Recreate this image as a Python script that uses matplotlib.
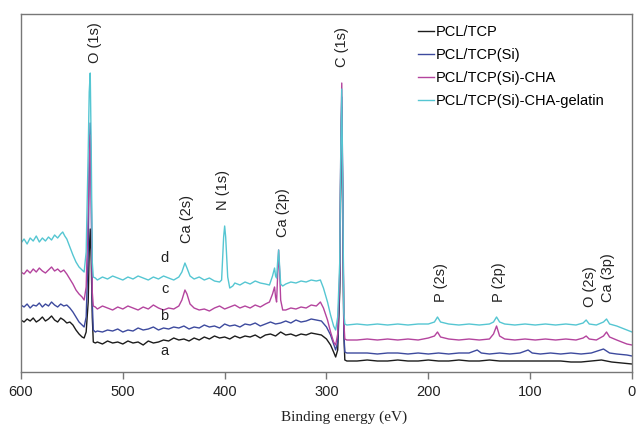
import matplotlib.pyplot as plt

# XPS survey spectra, intensity in arbitrary units (offset per sample)
e_a = [600, 597, 594, 591, 588, 585, 582, 579, 576, 573, 570, 567, 564, 561, 558, 555, 552, 549, 546, 543,
       540, 538, 536, 534, 533, 532, 531, 530, 529, 527,
       525, 520, 515, 510, 505, 500, 495, 490, 485, 480, 475, 470, 465, 460, 455, 450, 445, 440, 435, 430,
       425, 420, 415, 410, 405, 400, 395, 390, 385, 380, 375, 370, 365, 360, 355, 350, 345, 340, 335, 330,
       325, 320, 315, 310, 305, 300, 296, 293, 291, 289, 287, 286, 285, 284, 283, 282, 280,
       270, 260, 250, 240, 230, 220, 210, 200, 190, 180, 170, 160, 150, 140, 130, 120, 110, 100, 90, 80,
       70, 60, 50, 40, 30, 25, 20, 10, 0]
i_a = [52, 50, 53, 51, 54, 50, 52, 55, 51, 53, 56, 52, 50, 54, 52, 49, 50, 47, 42, 38,
       35, 34, 40, 70, 120, 143, 110, 55, 30, 29,
       30, 28, 31, 29, 30, 28, 31, 29, 30, 27, 31, 29, 30, 32, 31, 34, 32, 33, 31, 34,
       32, 35, 33, 36, 34, 35, 33, 36, 34, 36, 35, 37, 34, 37, 38, 36, 40, 37, 38, 36,
       38, 37, 39, 38, 37, 33, 27, 20, 15, 22, 80, 200, 265, 160, 40, 12, 11,
       11, 12, 11, 11, 12, 11, 11, 12, 11, 11, 12, 11, 11, 12, 11, 11, 11, 11, 11, 11,
       11, 10, 10, 11, 12, 11, 10, 9, 8]

e_b = [600, 597, 594, 591, 588, 585, 582, 579, 576, 573, 570, 567, 564, 561, 558, 555, 552, 549, 546, 543,
       540, 538, 536, 534, 533, 532, 531, 530, 529, 527,
       525, 520, 515, 510, 505, 500, 495, 490, 485, 480, 475, 470, 465, 460, 455, 450, 445, 440, 435, 430,
       425, 420, 415, 410, 405, 400, 395, 390, 385, 380, 375, 370, 365, 360, 355, 350, 345, 340, 335, 330,
       325, 320, 315, 310, 305, 300, 296, 293, 291, 289, 287, 286, 285, 284, 283, 282, 280,
       270, 260, 250, 240, 230, 220, 210, 200, 190, 180, 170, 160, 152, 148, 140, 130, 120, 110, 102, 98,
       90, 80, 70, 60, 50, 40, 28, 22, 15, 5, 0]
i_b = [67, 65, 68, 64, 67, 66, 69, 65, 68, 66, 70, 67, 65, 68, 66, 67, 64, 60, 55, 50,
       47, 45, 55, 120, 200, 249, 180, 70, 42, 40,
       41, 40, 42, 41, 43, 40, 42, 41, 44, 42, 43, 45, 42, 44, 43, 45, 44, 46, 43, 45,
       44, 47, 45, 46, 44, 48, 46, 47, 45, 48, 47, 49, 46, 48, 50, 48, 49, 51, 49, 52,
       50, 51, 53, 52, 51, 45, 37, 28, 22, 30, 90, 210, 275, 170, 40, 20, 19,
       19, 19, 18, 19, 19, 18, 19, 18, 19, 18, 19, 19, 22, 19, 18, 19, 18, 19, 22, 19,
       18, 19, 18, 19, 18, 19, 23, 19, 18, 17, 16]

e_c = [600, 597, 594, 591, 588, 585, 582, 579, 576, 573, 570, 567, 564, 561, 558, 555, 552, 549, 546, 543,
       540, 538, 536, 534, 533, 532, 531, 530, 529, 527,
       525, 520, 515, 510, 505, 500, 495, 490, 485, 480, 475, 470, 465, 460, 455, 450, 445, 442, 439, 437,
       434, 430, 425, 420, 415, 410, 405, 400, 395, 390, 385, 380, 375, 370, 365, 360, 356, 353, 351, 350,
       349, 348, 347, 346, 345, 343, 340, 335, 330, 325, 320, 315, 310, 306, 303, 299, 296, 293, 291, 289,
       287, 286, 285, 284, 283, 282, 280,
       270, 260, 250, 240, 230, 220, 210, 200, 194, 191, 188, 180, 170, 160, 150, 140, 136, 133, 130, 125,
       115, 105, 95, 85, 75, 65, 55, 48, 45, 42, 35, 28, 25, 22, 15, 10, 5, 0]
i_c = [100, 98, 102, 99, 103, 100, 104, 101, 99, 102, 105, 101, 103, 100, 102, 98, 93, 88, 82, 78,
       75, 72, 85, 160, 210, 237, 170, 80, 66, 65,
       63, 66, 64, 62, 65, 63, 66, 64, 62, 65, 63, 67, 64, 62, 64, 63, 66, 72, 82, 78,
       68, 64, 62, 63, 61, 64, 66, 63, 65, 67, 64, 66, 64, 67, 65, 68, 70, 78, 85, 75,
       70, 95, 122, 100, 72, 62, 62, 64, 63, 65, 64, 67, 66, 70, 64, 52, 40, 30, 27, 38,
       100, 220, 289, 180, 50, 33, 32,
       32, 33, 32, 33, 32, 33, 32, 34, 36, 40, 35, 33, 32, 33, 32, 33, 38, 46, 36, 33,
       32, 33, 32, 33, 32, 33, 32, 34, 36, 33, 32, 36, 40, 35, 32, 30, 28, 27]

e_d = [600, 597, 594, 591, 588, 585, 582, 579, 576, 573, 570, 567, 564, 561, 559, 557, 555, 552, 549, 546,
       543, 540, 538, 536, 534, 533, 532, 531, 530, 529, 527,
       525, 520, 515, 510, 505, 500, 495, 490, 485, 480, 475, 470, 465, 460, 455, 450, 445, 442, 439, 437,
       434, 430, 425, 420, 415, 410, 405, 403, 401, 400, 399, 397, 395, 392, 390, 385, 380, 375, 370, 365,
       360, 356, 353, 351, 350, 349, 348, 347, 346, 345, 343, 340, 335, 330, 325, 320, 315, 310, 306, 303,
       299, 296, 293, 291, 289, 287, 286, 285, 284, 283, 282, 280,
       270, 260, 250, 240, 230, 220, 210, 200, 194, 191, 188, 180, 170, 160, 150, 140, 136, 133, 130, 125,
       115, 105, 95, 85, 75, 65, 55, 48, 45, 42, 35, 28, 25, 22, 15, 10, 5, 0]
i_d = [129, 133, 128, 134, 131, 136, 130, 134, 131, 135, 132, 137, 134, 138, 140, 136, 133, 125, 117, 110,
       105, 102, 100, 120, 220, 280, 299, 220, 110, 95, 94,
       92, 95, 93, 96, 94, 92, 95, 93, 96, 94, 92, 95, 93, 96, 94, 92, 95, 100, 109, 104,
       96, 93, 95, 92, 94, 91, 90, 92, 135, 146, 135, 95, 84, 86, 89, 87, 90, 88, 91, 89,
       88, 87, 96, 104, 96, 94, 110, 122, 105, 88, 86, 88, 90, 89, 91, 90, 92, 91, 92, 84,
       70, 57, 46, 42, 55, 110, 220, 283, 180, 60, 48, 47,
       48, 47, 48, 47, 48, 47, 48, 48, 50, 55, 50, 48, 47, 48, 47, 48, 50, 55, 50, 48,
       47, 48, 47, 48, 47, 48, 47, 49, 52, 48, 47, 50, 53, 48, 46, 44, 42, 40]

names = ['PCL/TCP', 'PCL/TCP(Si)', 'PCL/TCP(Si)-CHA', 'PCL/TCP(Si)-CHA-gelatin']
colors = ['#1c1c1c', '#3d4a9e', '#b4449e', '#55c6d2']

# peak assignments: label, energy, bottom of text
peak_labels = ['O (1s)', 'Ca (2s)', 'N (1s)', 'Ca (2p)', 'C (1s)', 'P (2s)', 'P (2p)', 'O (2s)', 'Ca (3p)']
peak_pos = [527.5, 437, 401.5, 342.5, 285, 188, 131, 41.5, 23.5]
peak_text_y = [309, 129, 162, 135, 305, 70, 70, 65, 70]

curve_tags = ['a', 'b', 'c', 'd']
tag_y = [21, 56, 83, 114]

plt.rcParams['font.family'] = ['Liberation Sans', 'DejaVu Sans']

fig = plt.figure(figsize=(6.36, 4.25), dpi=100)
ax = fig.add_axes([0.033, 0.1247, 0.9607, 0.8423])

for e, i, c, n in zip([e_a, e_b, e_c, e_d], [i_a, i_b, i_c, i_d], colors, names):
    ax.plot(e, i, color=c, lw=1.0, label=n)

for lab, x, y in zip(peak_labels, peak_pos, peak_text_y):
    ax.text(x, y, lab, rotation=90, ha='center', va='bottom', fontsize=10.5, color='#222222')

for t, y in zip(curve_tags, tag_y):
    ax.text(459, y, t, ha='center', va='center', fontsize=10.5, color='#222222')

ax.set_xlim(600, 0)
ax.set_ylim(0, 358)
ax.set_yticks([])
ax.set_xticks([600, 500, 400, 300, 200, 100, 0])
ax.tick_params(axis='x', direction='out', length=5, width=1, color='#777777',
               labelsize=10.5, labelcolor='#222222', pad=4)
for s in ax.spines.values():
    s.set_color('#777777')
    s.set_linewidth(1.0)

ax.set_xlabel('Binding energy (eV)', family='Liberation Serif', fontsize=11, color='#222222')
ax.xaxis.set_label_coords(0.528, -0.108)

leg = ax.legend(loc='upper left', bbox_to_anchor=(0.64, 0.985), frameon=False, fontsize=10.5,
                handlelength=1.1, handletextpad=0.1, labelspacing=0.62, borderaxespad=0)
for line in leg.get_lines():
    line.set_linewidth(1.0)

fig.savefig('out.png', dpi=100)
